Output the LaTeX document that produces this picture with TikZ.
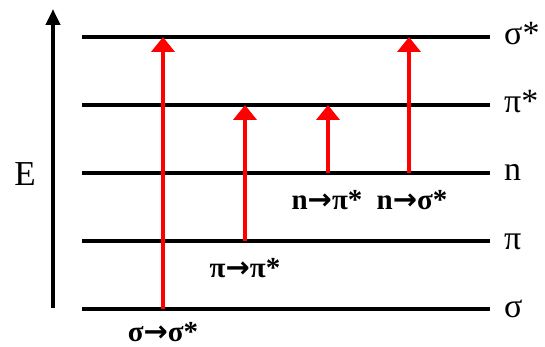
\documentclass[tikz,border=0pt]{standalone}
\usepackage{fontspec}
\setmainfont{Liberation Serif}
\newfontfamily\arrowfont{DejaVu Sans}
\usetikzlibrary{arrows.meta}
\newcommand{\toarr}{{\arrowfont\bfseries →}}

\begin{document}
\begin{tikzpicture}[x=1pt, y=-1pt,
  level/.style={line width=3.5pt},
  trans/.style={red, line width=4pt, -{Triangle[width=23pt,length=15pt]}},
  lvllabel/.style={anchor=base west, inner sep=0pt, font=\fontsize{34}{36}\selectfont},
  translabel/.style={inner sep=0pt, font=\fontsize{29}{31}\selectfont\bfseries}]
  \useasboundingbox (0,0) rectangle (545,347);
  % energy axis
  \coordinate (E-foot) at (53,308);
  \coordinate (E-tip) at (53,9);
  \draw[line width=4pt, -{Triangle[width=14pt,length=16pt]}] (E-foot) -- (E-tip);
  \node[inner sep=0pt, font=\fontsize{35}{37}\selectfont] (E) at (25,174) {E};
  % levels
  \foreach \name/\y/\txt in {ss/37/σ*, ps/105/π*, n/173/n, p/241/π, s/309/σ} {
    \coordinate (\name-l) at (82,\y);
    \coordinate (\name-r) at (490,\y);
    \draw[level] (\name-l) -- (\name-r);
    \node[lvllabel] (\name-lab) at ([xshift=14pt, yshift=-8pt]\name-r) {\txt};
  }
  % transitions
  \foreach \name/\x/\from/\to in {sigss/163/309/37, pips/245/241/105, nps/328/173/105, nss/409/173/37} {
    \coordinate (\name-a) at (\x,\from);
    \coordinate (\name-b) at (\x,\to);
    \draw[trans] (\name-a) -- (\name-b);
  }
  \node[translabel] (sigss-lab) at (163,332) {σ\toarr σ*};
  \node[translabel] (pips-lab) at (245,268) {π\toarr π*};
  \node[translabel] (nps-lab) at (327,200) {n\toarr π*};
  \node[translabel] (nss-lab) at (412,200) {n\toarr σ*};
\end{tikzpicture}
\end{document}
